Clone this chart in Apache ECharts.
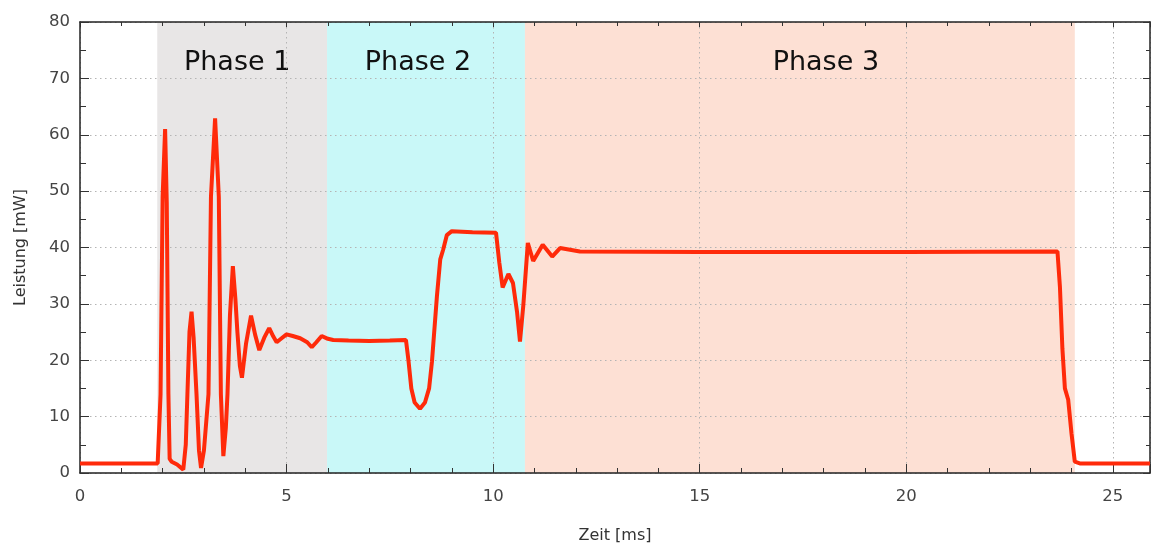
<!DOCTYPE html>
<html>
<head>
    <meta charset="utf-8">
    <title>Leistung</title>
    <script src="https://cdn.jsdelivr.net/npm/echarts@6/dist/echarts.min.js"></script>
    <style>
        html, body { margin: 0; padding: 0; background: #fff; }
        #chart { width: 1151px; height: 549px; }
    </style>
</head>
<body>
    <div id="chart"></div>
    <script>
        // Messkurve
        var timeMs = [0, 1.88, 1.9, 1.95, 2.0, 2.06, 2.10, 2.14, 2.17, 2.22, 2.35, 2.5,
            2.56, 2.60, 2.65, 2.70, 2.75, 2.82, 2.88, 2.93,
            3.0, 3.11, 3.17, 3.27, 3.36, 3.41, 3.47,
            3.53, 3.57, 3.63, 3.70, 3.76, 3.81, 3.87, 3.92,
            4.02, 4.14, 4.24, 4.34, 4.46, 4.58, 4.68, 4.76, 4.88, 5.0, 5.15, 5.33, 5.5, 5.61, 5.72, 5.85, 6.0, 6.13,
            6.5, 7.0, 7.5, 7.89, 7.95, 8.02, 8.1, 8.23, 8.35, 8.45, 8.52, 8.64, 8.72, 8.79, 8.88,
            9.0, 9.5, 10.07, 10.15, 10.23, 10.37, 10.48, 10.58, 10.65, 10.73, 10.84, 10.97,
            11.2, 11.43, 11.62, 12.1, 15, 20, 23.66, 23.72, 23.78, 23.84, 23.92, 24.0, 24.08,
            24.2, 25.9];
        var powerMw = [1.7, 1.7, 2, 14, 49, 61, 48, 14, 2.5, 2, 1.5, 0.6,
            5, 14, 25, 28.6, 24, 14, 4, 0.9,
            4, 14, 49, 62.9, 49, 14, 3,
            8, 14, 28, 36.7, 31, 25, 19, 16.9,
            23, 27.9, 24.5, 21.8, 24, 25.7, 24.2, 23.2, 23.9, 24.6, 24.3, 23.9, 23.2, 22.3, 23.2, 24.3, 23.8, 23.6,
            23.5, 23.4, 23.5, 23.6, 20, 15, 12.5, 11.4, 12.5, 15, 19.8, 31.4, 37.9, 39.6, 42.2,
            42.9, 42.7, 42.6, 37.3, 32.9, 35.3, 33.7, 28.5, 23.3, 29.7, 40.8, 37.6,
            40.5, 38.4, 39.9, 39.3, 39.2, 39.2, 39.3, 33, 22, 15, 13, 7, 2,
            1.7, 1.7];

        // Phasen
        var phaseNames = ['Phase 1', 'Phase 2', 'Phase 3'];
        var phaseStart = [1.87, 5.98, 10.77];
        var phaseEnd = [5.98, 10.77, 24.08];
        var phaseColors = ['#e8e6e6', '#c9f8f8', '#fde0d4'];
        var phaseLabelShift = [-5, -8, 26];

        var xTicks = { min: 0, max: 25.9, interval: 5 };
        var yTicks = { min: 0, max: 80, interval: 10 };

        var points = timeMs.map(function (t, i) { return [t, powerMw[i]]; });

        var areas = phaseNames.map(function (name, i) {
            return [{
                name: name,
                xAxis: phaseStart[i],
                itemStyle: { color: phaseColors[i] },
                label: { offset: [phaseLabelShift[i], 0] }
            }, { xAxis: phaseEnd[i] }];
        });

        var font = 'DejaVu Sans';
        var gridLine = { show: true, lineStyle: { type: [1.5, 3.5], color: '#b4b4b4', width: 1 } };

        function axis(extra) {
            var a = {
                type: 'value',
                z: 2,
                axisLine: { show: true, onZero: false, lineStyle: { color: '#222', width: 1.5 } },
                axisTick: { show: true, inside: true, length: 9, lineStyle: { color: '#333' } },
                minorTick: { show: true, length: 5, lineStyle: { color: '#333' } },
                splitLine: { show: false },
                axisLabel: { show: false }
            };
            for (var k in extra) a[k] = extra[k];
            return a;
        }

        var myChart = echarts.init(document.getElementById('chart'));

        var option = {
            animation: false,
            backgroundColor: '#fff',
            grid: { left: 80, right: 1, top: 22, bottom: 68 },
            xAxis: [
                axis({
                    position: 'bottom',
                    min: xTicks.min, max: xTicks.max, interval: xTicks.interval,
                    minorTick: { show: true, splitNumber: 5, length: 5, lineStyle: { color: '#333' } },
                    name: 'Zeit [ms]',
                    nameLocation: 'middle',
                    nameGap: 55,
                    nameTextStyle: { fontFamily: font, fontSize: 16, color: '#333' },
                    axisLabel: {
                        show: true, margin: 15, fontFamily: font, fontSize: 16.5, color: '#444',
                        showMaxLabel: false
                    },
                    splitLine: gridLine
                }),
                axis({
                    position: 'top',
                    min: xTicks.min, max: xTicks.max, interval: xTicks.interval,
                    minorTick: { show: true, splitNumber: 5, length: 4, lineStyle: { color: '#333' } },
                    axisTick: { show: true, inside: true, length: 5, lineStyle: { color: '#333' } }
                })
            ],
            yAxis: [
                axis({
                    position: 'left',
                    min: yTicks.min, max: yTicks.max, interval: yTicks.interval,
                    minorTick: { show: true, splitNumber: 2, length: 6, lineStyle: { color: '#333' } },
                    name: 'Leistung [mW]',
                    nameLocation: 'middle',
                    nameGap: 51,
                    nameTextStyle: { fontFamily: font, fontSize: 16, color: '#333' },
                    axisLabel: { show: true, margin: 10, fontFamily: font, fontSize: 16.5, color: '#444' },
                    splitLine: gridLine
                }),
                axis({
                    position: 'right',
                    min: yTicks.min, max: yTicks.max, interval: yTicks.interval,
                    minorTick: { show: true, splitNumber: 2, length: 4, lineStyle: { color: '#333' } },
                    axisTick: { show: true, inside: true, length: 7, lineStyle: { color: '#333' } }
                })
            ],
            series: [
                {
                    // nur Hintergrund der Phasen
                    type: 'line',
                    z: 1,
                    data: [],
                    silent: true,
                    markArea: {
                        silent: true,
                        label: {
                            show: true,
                            position: 'insideTop',
                            distance: 27,
                            fontFamily: font,
                            fontSize: 27,
                            color: '#111'
                        },
                        data: areas
                    }
                },
                {
                    name: 'Leistung',
                    type: 'line',
                    z: 3,
                    showSymbol: false,
                    sampling: 'none',
                    lineStyle: { color: '#ff2a0a', width: 4 },
                    data: points
                }
            ]
        };

        myChart.setOption(option);
    </script>
</body>
</html>
